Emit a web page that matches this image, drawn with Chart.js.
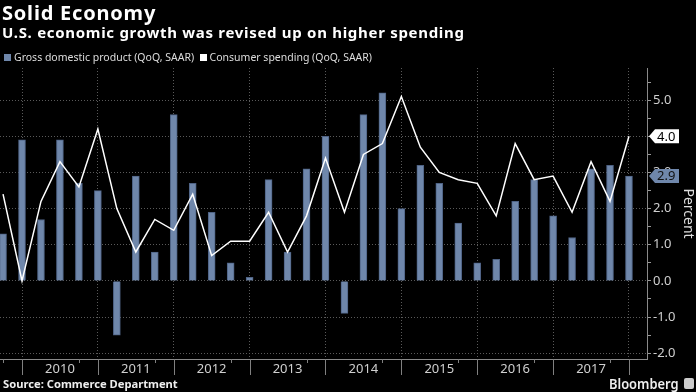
<!DOCTYPE html>
<html>
<head>
<meta charset="utf-8">
<script src="https://cdn.jsdelivr.net/npm/chart.js@4.4.0/dist/chart.umd.min.js"></script>
<style>
  body { margin: 0; background: #000; }
  #wrap { position: relative; width: 696px; height: 392px; overflow: hidden; background: #000; font-family: "Noto Sans", sans-serif; color: #fff; }
  canvas { position: absolute; left: 0; top: 0; }
  .t { position: absolute; white-space: nowrap; line-height: 1; }
  #title { left: 2px; top: 3px; font-size: 20px; font-weight: bold; letter-spacing: 0.8px; }
  #sub { left: 2px; top: 25px; font-size: 15px; font-weight: bold; letter-spacing: 0.7px; }
  #legend { left: 4px; top: 52px; font-size: 10.5px; color: #ddd; }
  #legend .sq { display: inline-block; width: 7px; height: 7px; margin-right: 3px; vertical-align: 0px; }
  #source { left: 3px; top: 378px; font-size: 11.2px; font-weight: bold; color: #eee; }
  #logo { left: 609px; top: 376px; font-size: 15px; font-weight: 600; color: #eee; transform: scaleX(0.86); transform-origin: left top; }
  #icon { position: absolute; left: 684px; top: 378px; width: 10px; height: 11px; background: #ccc; border-radius: 2px; }
</style>
</head>
<body>
<div id="wrap">
  <canvas id="gdpChart" width="696" height="392"></canvas>
  <div class="t" id="title">Solid Economy</div>
  <div class="t" id="sub">U.S. economic growth was revised up on higher spending</div>
  <div class="t" id="legend"><span class="sq" style="background:#6f87ab"></span>Gross domestic product (QoQ, SAAR)&nbsp;&nbsp;<span class="sq" style="background:#fff"></span>Consumer spending (QoQ, SAAR)</div>
  <div class="t" id="source">Source: Commerce Department</div>
  <div class="t" id="logo">Bloomberg</div>
  <div id="icon"></div>
</div>
<script>
// Q3 2009 .. Q4 2017, quarterly, annualized % change
const years = ['2010', '2011', '2012', '2013', '2014', '2015', '2016', '2017'];
const gdp = [1.3, 3.9, 1.7, 3.9, 2.7, 2.5, -1.5, 2.9, 0.8, 4.6, 2.7, 1.9, 0.5, 0.1, 2.8, 0.8, 3.1,
             4.0, -0.9, 4.6, 5.2, 2.0, 3.2, 2.7, 1.6, 0.5, 0.6, 2.2, 2.8, 1.8, 1.2, 3.1, 3.2, 2.9];
const spending = [2.4, 0.0, 2.2, 3.3, 2.6, 4.2, 2.0, 0.8, 1.7, 1.4, 2.4, 0.7, 1.1, 1.1, 1.9, 0.8, 1.8,
                  3.4, 1.9, 3.5, 3.8, 5.1, 3.7, 3.0, 2.8, 2.7, 1.8, 3.8, 2.8, 2.9, 1.9, 3.3, 2.2, 4.0];

const barColor = '#6f87ab';
const gridColor = '#5a5a5a';

const extras = {
  id: 'extras',
  afterDraw(chart) {
    const { ctx, chartArea, scales: { x, y } } = chart;
    ctx.save();
    // ticks below the time axis
    ctx.strokeStyle = '#808080';
    ctx.lineWidth = 1;
    for (let i = 0; i < gdp.length; i++) {
      let len = 0;
      if (i % 4 === 1) len = 16;
      else if (i % 4 === 0) len = 4;
      if (!len) continue;
      const px = Math.round(x.getPixelForValue(i)) + 0.5;
      ctx.beginPath();
      ctx.moveTo(px, chartArea.bottom);
      ctx.lineTo(px, chartArea.bottom + len);
      ctx.stroke();
    }
    // last-value tags on the right axis
    const tag = (value, fill, textColor) => {
      const py = y.getPixelForValue(value);
      const l = chartArea.right + 2;
      ctx.beginPath();
      ctx.moveTo(l, py);
      ctx.lineTo(l + 6, py - 7);
      ctx.lineTo(l + 30, py - 7);
      ctx.lineTo(l + 30, py + 7);
      ctx.lineTo(l + 6, py + 7);
      ctx.closePath();
      ctx.fillStyle = fill;
      ctx.fill();
      ctx.fillStyle = textColor;
      ctx.font = '13px "Noto Sans"';
      ctx.textBaseline = 'middle';
      ctx.fillText(value.toFixed(1), l + 8, py + 0.5);
    };
    tag(gdp[gdp.length - 1], barColor, '#111');
    tag(spending[spending.length - 1], '#fff', '#000');
    // little chart glyph in the logo box
    ctx.fillStyle = '#333';
    [[686, 386, 3], [688, 383, 6], [690, 385, 4]].forEach(b => ctx.fillRect(b[0], b[1], 1, b[2]));
    ctx.restore();
  }
};

const ctx = document.getElementById('gdpChart').getContext('2d');
new Chart(ctx, {
  data: {
    datasets: [{
      type: 'line',
      label: 'Consumer spending (QoQ, SAAR)',
      data: spending.map((v, i) => ({ x: i, y: v })),
      borderColor: '#fff',
      borderWidth: 1.5,
      pointRadius: 0,
      tension: 0,
      order: 0
    }, {
      type: 'bar',
      label: 'Gross domestic product (QoQ, SAAR)',
      data: gdp.map((v, i) => ({ x: i, y: v })),
      backgroundColor: barColor,
      borderColor: '#4e6284',
      borderWidth: 1,
      barThickness: 7,
      order: 1
    }]
  },
  options: {
    responsive: false,
    animation: false,
    layout: { padding: { left: 0, right: 0, top: 68, bottom: 0 } },
    plugins: {
      legend: { display: false },
      tooltip: { enabled: false }
    },
    scales: {
      x: {
        type: 'linear',
        offset: false,
        min: -0.16,
        max: 33.95,
        afterBuildTicks: scale => {
          const t = [];
          for (let v = 1; v <= 33; v += 2) t.push({ value: v });
          scale.ticks = t;
        },
        afterFit: scale => { scale.height = 33; },
        grid: {
          offset: false,
          color: c => (c.tick && (c.tick.value - 1) % 4 === 0) ? gridColor : 'rgba(0,0,0,0)',
          drawTicks: false
        },
        border: { display: true, color: '#8a8a8a', dash: [1, 2] },
        ticks: {
          autoSkip: false,
          maxRotation: 0,
          padding: 2,
          color: '#cfcfcf',
          font: { family: 'Noto Sans', size: 13 },
          callback: v => ((v - 3) % 4 === 0) ? years[(v - 3) / 4] : ''
        }
      },
      y: {
        position: 'right',
        min: -2.16,
        max: 5.89,
        afterBuildTicks: scale => {
          const t = [];
          for (let k = -4; k <= 11; k++) t.push({ value: k / 2 });
          scale.ticks = t;
        },
        afterFit: scale => { scale.width = 49; },
        grid: {
          color: c => (c.tick && Number.isInteger(c.tick.value)) ? gridColor : 'rgba(0,0,0,0)',
          tickColor: '#999',
          tickLength: 4
        },
        border: { display: true, color: '#8a8a8a', dash: [1, 2] },
        ticks: {
          padding: 2,
          color: '#cfcfcf',
          font: { family: 'Noto Sans', size: 13 },
          callback: v => Number.isInteger(v) ? v.toFixed(1) : ''
        },
        title: {
          display: true,
          text: 'Percent',
          color: '#ddd',
          font: { family: 'Noto Sans', size: 14 },
          padding: { top: 0, bottom: 1 }
        }
      }
    }
  },
  plugins: [extras]
});
</script>
</body>
</html>
